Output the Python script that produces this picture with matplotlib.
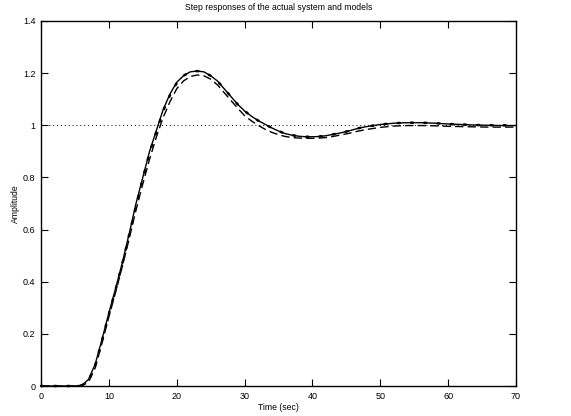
import matplotlib
matplotlib.use("Agg")
import matplotlib.pyplot as plt
from matplotlib.ticker import FuncFormatter

plt.rcParams['font.family'] = ['Liberation Sans', 'DejaVu Sans']

# Time samples (s)
t = [0, 5, 6, 7, 8, 9, 10, 11, 12, 13, 14, 15, 16, 17, 18, 19, 20, 21, 22, 23,
     24, 25, 26, 27, 28, 29, 30, 31, 32, 33, 34, 35, 36, 37, 38, 39, 40, 41, 42,
     43, 44, 45, 46, 47, 48, 50, 52, 54, 56, 58, 60, 62, 64, 66, 68, 70]

# Model 1 (solid)
model1 = [0, 0, 0.003, 0.025, 0.085, 0.18, 0.28, 0.375, 0.475, 0.585, 0.70, 0.80, 0.90,
          0.98, 1.06, 1.12, 1.165, 1.19, 1.205, 1.208, 1.205, 1.19, 1.17, 1.14, 1.11,
          1.08, 1.055, 1.035, 1.018, 1.004, 0.99, 0.978, 0.968, 0.962, 0.958, 0.956,
          0.956, 0.957, 0.96, 0.965, 0.97, 0.976, 0.983, 0.99, 0.995, 1.003, 1.008,
          1.01, 1.01, 1.008, 1.005, 1.003, 1.001, 1.0, 0.999, 0.999]

# Model 2 (dashed)
model2 = [0, 0, 0.0, 0.015, 0.07, 0.165, 0.265, 0.36, 0.46, 0.565, 0.675, 0.775, 0.87,
          0.955, 1.03, 1.09, 1.14, 1.17, 1.187, 1.193, 1.19, 1.177, 1.155, 1.125,
          1.095, 1.065, 1.037, 1.017, 1.0, 0.985, 0.973, 0.964, 0.957, 0.953, 0.951,
          0.95, 0.95, 0.951, 0.953, 0.957, 0.962, 0.967, 0.973, 0.979, 0.984, 0.992,
          0.997, 0.999, 0.999, 0.998, 0.996, 0.995, 0.994, 0.993, 0.993, 0.993]

# Actual system (dotted)
actual = [0, 0, 0.002, 0.02, 0.08, 0.175, 0.275, 0.37, 0.47, 0.58, 0.69, 0.795,
          0.895, 0.975, 1.055, 1.115, 1.162, 1.19, 1.205, 1.208, 1.205, 1.19, 1.17,
          1.14, 1.11, 1.08, 1.055, 1.035, 1.018, 1.004, 0.99, 0.978, 0.968, 0.962,
          0.958, 0.956, 0.956, 0.957, 0.96, 0.965, 0.97, 0.976, 0.983, 0.99, 0.995,
          1.003, 1.008, 1.01, 1.01, 1.008, 1.005, 1.003, 1.001, 1.0, 1.0, 1.0]

xticks = [0, 10, 20, 30, 40, 50, 60, 70]
yticks = [0, 0.2, 0.4, 0.6, 0.8, 1.0, 1.2, 1.4]

fig = plt.figure(figsize=(5.71, 4.16), dpi=100)
ax = fig.add_axes([41/571, 1-386/416, 475/571, 365/416])

ax.axhline(1.0, color='black', linestyle=(0, (1, 3)), linewidth=0.7)
ax.plot(t, model1, color='black', linestyle='-', linewidth=1.0)
ax.plot(t, model2, color='black', linestyle=(0, (6, 3)), linewidth=1.0)
ax.plot(t, actual, color='black', linestyle=(0, (0.8, 4.5)), linewidth=1.8,
        dash_capstyle='round', clip_on=False, zorder=5)

ax.set_xlim(0, 70)
ax.set_ylim(0, 1.4)
ax.set_xticks(xticks)
ax.set_yticks(yticks)
ax.yaxis.set_major_formatter(FuncFormatter(lambda v, p: '%g' % round(v, 2)))
ax.tick_params(direction='in', top=True, right=True, length=5, width=0.8,
               labelsize=6.5, pad=4)
for s in ax.spines.values():
    s.set_linewidth(1.0)

ax.set_title('Step responses of the actual system and models', fontsize=6.2, pad=8)
ax.set_xlabel('Time (sec)', fontsize=6.2, labelpad=2)
ax.set_ylabel('Amplitude', fontsize=6.2, labelpad=2)

fig.savefig('out.png', dpi=100)
